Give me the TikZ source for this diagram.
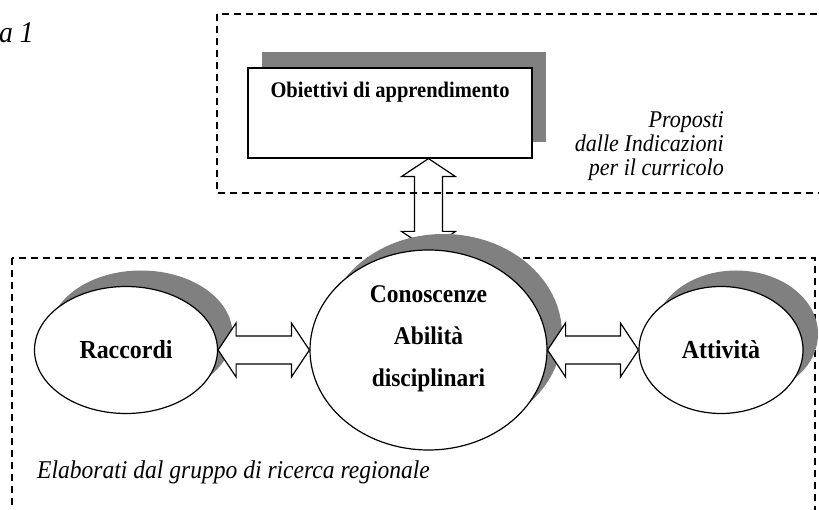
\documentclass[tikz,border=0pt]{standalone}
\usepackage{fontspec}
\setmainfont{Liberation Serif}[FakeStretch=0.92]
\usetikzlibrary{shapes.geometric,shadows,calc,positioning,backgrounds}
\definecolor{shadowgray}{gray}{0.5}
\newcommand*\twowayarrow[3][]{%
% #2=start point;#3=end point
  \draw[line width=1.2pt,#1] (#2) -- ($(#2)!18pt!(#3)!27pt!90:(#3)$) -- ($(#2)!18pt!(#3)!14pt!90:(#3)$)
    -- ($(#3)!18pt!(#2)!14pt!-90:(#2)$) -- ($(#3)!18pt!(#2)!27pt!-90:(#2)$) -- (#3)
    -- ($(#3)!18pt!(#2)!27pt!90:(#2)$) -- ($(#3)!18pt!(#2)!14pt!90:(#2)$)
    -- ($(#2)!18pt!(#3)!14pt!-90:(#3)$) -- ($(#2)!18pt!(#3)!27pt!-90:(#3)$) -- cycle;
}

\begin{document}
\begin{tikzpicture}[x=1pt,y=-1pt,line join=miter,
  frame/.style={line width=1.1pt,dash pattern=on 7pt off 5pt},
  panel/.style={rectangle,draw,line width=1.2pt,fill=white,inner sep=0pt,
    general shadow={shadow xshift=14pt,shadow yshift=16pt,fill=shadowgray}},
  oval/.style={ellipse,draw,line width=1.2pt,fill=white,inner sep=0pt,
    font=\fontsize{26}{42}\selectfont\bfseries,
    general shadow={shadow xshift=15pt,shadow yshift=16pt,fill=shadowgray}},
  notefont/.style={font=\fontsize{24}{24}\selectfont\itshape,inner sep=0pt}]
\useasboundingbox (0,0) rectangle (819,510);

\node[notefont,anchor=west,font=\fontsize{30}{30}\selectfont\itshape] (fig) at (-1,33) {a 1};

% obiettivi (top)
\node[panel,minimum width=284pt,minimum height=90pt] (obi) at (390,113) {};
\node[font=\fontsize{22.3}{24}\selectfont\bfseries] (obitxt) at ([yshift=-25pt]obi.north) {Obiettivi di apprendimento};
\node[notefont,anchor=east,align=right] (proposti) at (724,146) {Proposti\\dalle Indicazioni\\per il curricolo};

% the three ovals
\node[oval,minimum width=183pt,minimum height=127pt] (rac) at (126,350) {Raccordi};
\node[oval,minimum width=237pt,minimum height=200pt] (con) at (428.5,350) {};
\node[oval,minimum width=164pt,minimum height=127pt] (att) at (721,350) {Attività};
\node[font=\fontsize{25.5}{42}\selectfont\bfseries,align=center] (contxt) at ([yshift=11pt]con.center) {Conoscenze\\Abilità\\disciplinari};

\node[notefont,anchor=west,font=\fontsize{25.6}{30}\selectfont\itshape] (elab) at (37,472) {Elaborati dal gruppo di ricerca regionale};

\coordinate (obitip) at (con.north |- obi.south);
\begin{scope}[on background layer]
\draw[frame] (217,14) rectangle (830,193);
\draw[frame] (12,258) rectangle (815,530);
\twowayarrow{con.north}{obitip}
\end{scope}

\twowayarrow[fill=white]{rac.east}{con.west}
\twowayarrow[fill=white]{con.east}{att.west}
\end{tikzpicture}
\end{document}
